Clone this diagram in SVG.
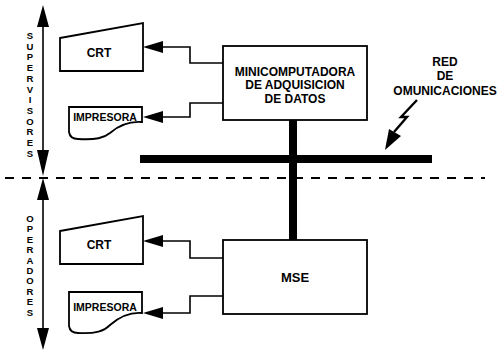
<svg xmlns="http://www.w3.org/2000/svg" width="502" height="352" viewBox="0 0 502 352">
<defs>
<style>
.box{fill:#fff;stroke:#000;stroke-width:1.8}
.ln{fill:none;stroke:#000;stroke-width:1.6}
.ah{fill:#000}
.t{font-family:"Liberation Sans",Arial,sans-serif;font-weight:bold;fill:#000;text-anchor:middle}
.v{font-family:"Liberation Sans",Arial,sans-serif;font-weight:bold;fill:#000;text-anchor:middle;font-size:9.5px}
</style>
</defs>
<rect width="502" height="352" fill="#fff"/>
<g id="divider">
<line x1="5" y1="178" x2="485" y2="178" stroke="#000" stroke-width="2" stroke-dasharray="9 8"/>
</g>
<g id="supervisores">
<line class="ln" x1="43" y1="25" x2="43" y2="152"/>
<polygon class="ah" points="43,5 37,27 49,27"/>
<polygon class="ah" points="43,176 37,150 49,150"/>
<text class="v"><tspan x="30" y="39">S</tspan><tspan x="30" y="49.7">U</tspan><tspan x="30" y="60.4">P</tspan><tspan x="30" y="71.1">E</tspan><tspan x="30" y="81.8">R</tspan><tspan x="30" y="92.5">V</tspan><tspan x="30" y="103.2">I</tspan><tspan x="30" y="113.9">S</tspan><tspan x="30" y="124.6">O</tspan><tspan x="30" y="135.3">R</tspan><tspan x="30" y="146">E</tspan><tspan x="30" y="156.7">S</tspan></text>
</g>
<g id="operadores">
<line class="ln" x1="43" y1="198" x2="43" y2="330"/>
<polygon class="ah" points="43,178 37,200 49,200"/>
<polygon class="ah" points="43,350 37,328 49,328"/>
<text class="v"><tspan x="30" y="222">O</tspan><tspan x="30" y="232.4">P</tspan><tspan x="30" y="242.8">E</tspan><tspan x="30" y="253.2">R</tspan><tspan x="30" y="263.6">A</tspan><tspan x="30" y="274">D</tspan><tspan x="30" y="284.4">O</tspan><tspan x="30" y="294.8">R</tspan><tspan x="30" y="305.2">E</tspan><tspan x="30" y="315.6">S</tspan></text>
</g>
<g id="bus">
<rect x="140" y="155" width="292" height="8" fill="#000"/>
<rect x="289" y="120" width="8" height="120" fill="#000"/>
</g>
<g id="connectors">
<polyline class="ln" points="161,47 190,47 190,63 223,63"/>
<polygon class="ah" points="143,47 163,41 163,53"/>
<polyline class="ln" points="161,117 190,117 190,103 223,103"/>
<polygon class="ah" points="143,117 163,111 163,123"/>
<polyline class="ln" points="161,241 190,241 190,258 223,258"/>
<polygon class="ah" points="143,241 163,235 163,247"/>
<polyline class="ln" points="161,313 190,313 190,296 223,296"/>
<polygon class="ah" points="143,313 163,307 163,319"/>
<polyline fill="none" stroke="#000" stroke-width="2.4" points="417,100 401,117 407,117 394,132"/>
<polygon class="ah" points="385,150 389,129 401,136"/>
</g>
<g id="crt-sup">
<path class="box" d="M60,38 L143,23 V71 H60 Z"/>
<text class="t" x="99" y="57" font-size="12">CRT</text>
</g>
<g id="impresora-sup">
<path class="box" d="M69,107 H142 V122 C128,121 118,126 110,133 C104,138 96,140 78,139 Q70,139 69,132 Z"/>
<text class="t" x="105" y="120.5" font-size="10.5">IMPRESORA</text>
</g>
<g id="minicomputadora">
<rect class="box" x="223" y="46" width="144" height="74"/>
<text class="t" x="295" y="76" font-size="12">MINICOMPUTADORA</text>
<text class="t" x="295" y="89" font-size="12">DE ADQUISICION</text>
<text class="t" x="295" y="103" font-size="12">DE DATOS</text>
</g>
<g id="red">
<text class="t" x="445" y="66" font-size="12">RED</text>
<text class="t" x="445" y="80" font-size="12">DE</text>
<text class="t" x="445" y="95" font-size="12">OMUNICACIONES</text>
</g>
<g id="crt-op">
<path class="box" d="M60,231 L143,216 V264 H60 Z"/>
<text class="t" x="99" y="249" font-size="12">CRT</text>
</g>
<g id="impresora-op">
<path class="box" d="M69,292 H142 V313 C128,312 118,318 110,325 C104,331 96,334 78,333 Q70,333 69,326 Z"/>
<text class="t" x="105" y="311" font-size="10.5">IMPRESORA</text>
</g>
<g id="mse">
<rect class="box" x="223" y="240" width="144" height="74"/>
<text class="t" x="295" y="282" font-size="13">MSE</text>
</g>
</svg>
